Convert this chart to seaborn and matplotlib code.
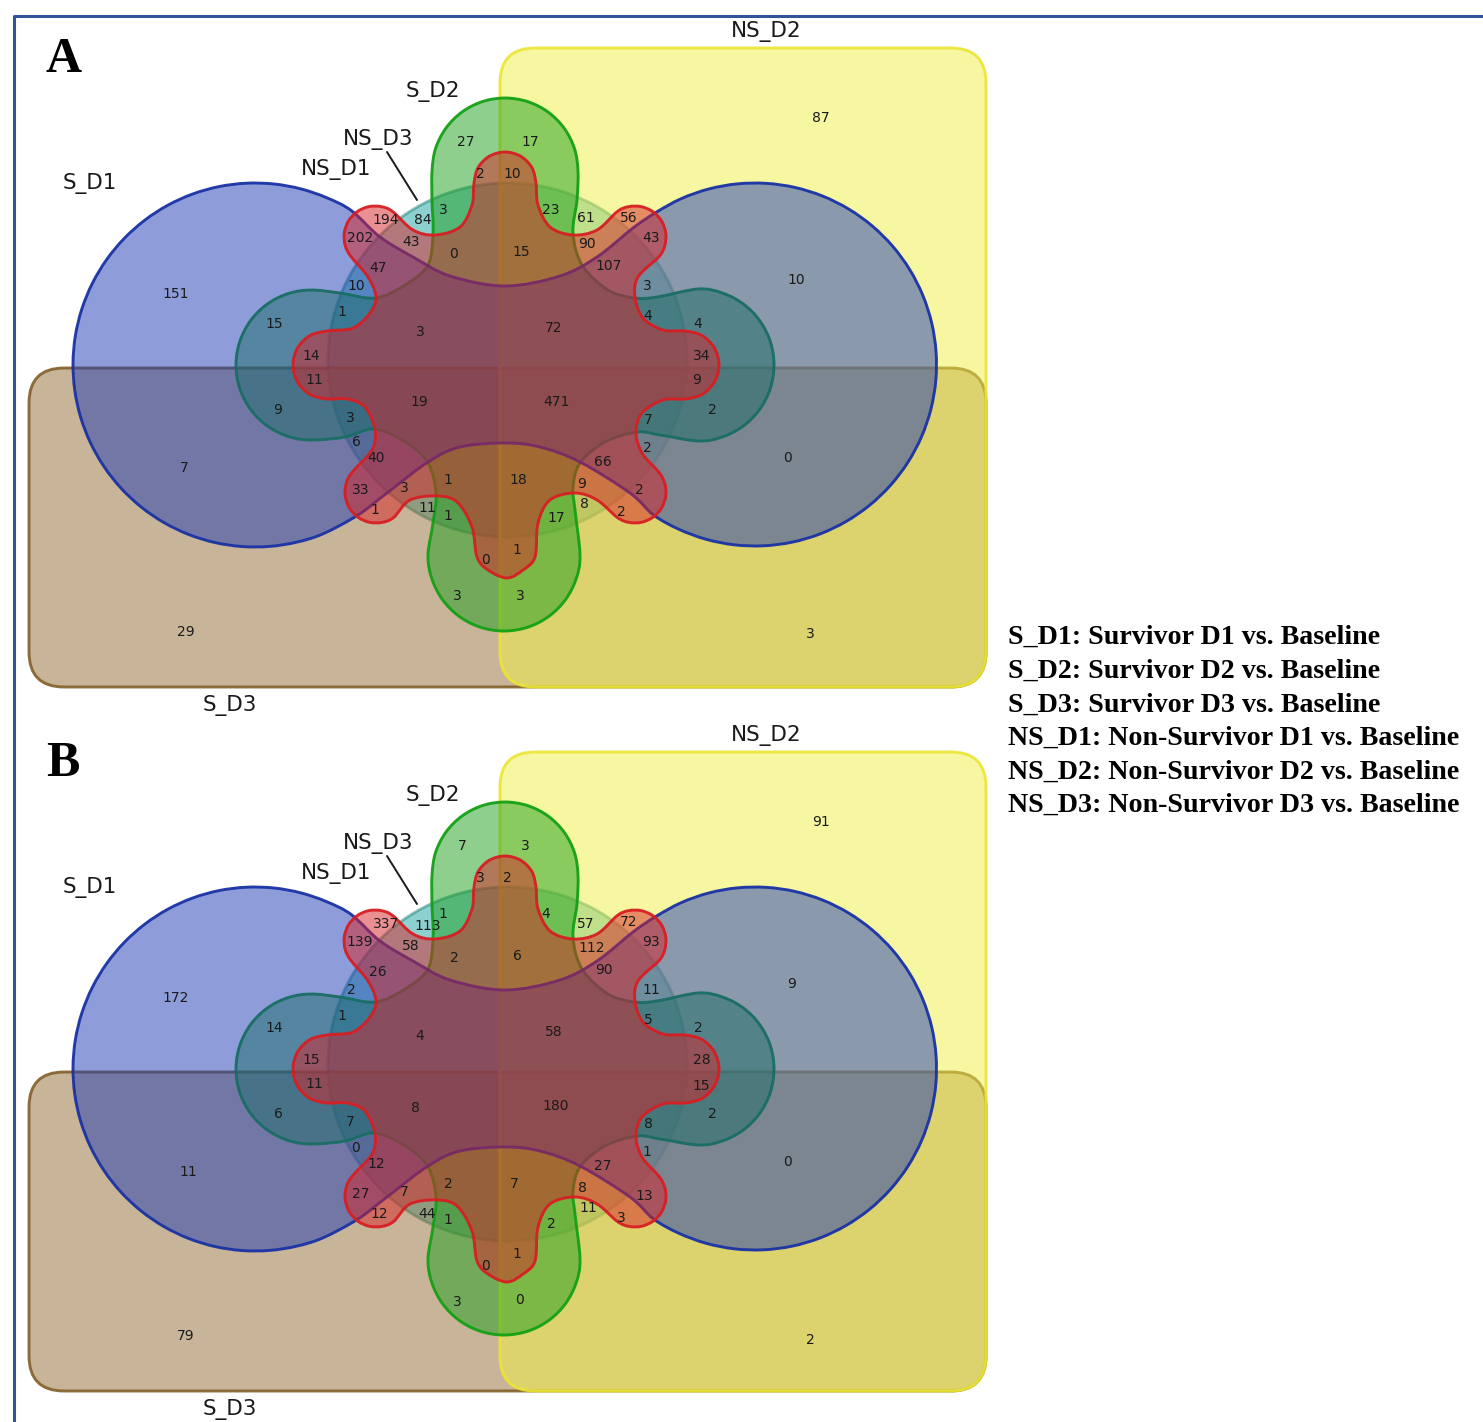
import matplotlib
matplotlib.use("Agg")
import matplotlib.pyplot as plt
import numpy as np
import seaborn as sns
from matplotlib.patches import Ellipse, FancyBboxPatch, PathPatch
from matplotlib.path import Path

sns.set_theme(style="white")

# six-set counts, one per region
counts_a = [87, 10, 151, 27, 17, 2, 10, 194, 84, 3, 23, 61, 56, 202, 43, 0, 15, 90, 43, 107, 47,
            10, 3, 1, 4, 15, 4, 3, 72, 14, 34, 11, 9, 9, 19, 471, 2, 3, 7, 6, 2, 40, 66, 0, 7,
            1, 18, 33, 3, 9, 2, 8, 1, 11, 1, 17, 2, 1, 0, 3, 3, 3, 29]
counts_b = [91, 9, 172, 7, 3, 3, 2, 337, 113, 1, 4, 57, 72, 139, 58, 2, 6, 112, 93, 90, 26,
            2, 11, 1, 5, 14, 2, 4, 58, 15, 28, 11, 15, 6, 8, 180, 2, 7, 8, 0, 1, 12, 27, 0, 11,
            2, 7, 27, 7, 8, 13, 11, 12, 44, 1, 2, 3, 1, 0, 3, 0, 2, 79]

set_names = ["S_D2", "NS_D3", "NS_D1", "S_D1", "NS_D2", "S_D3"]
legend_lines = ["S_D1: Survivor D1 vs. Baseline", "S_D2: Survivor D2 vs. Baseline",
                "S_D3: Survivor D3 vs. Baseline", "NS_D1: Non-Survivor D1 vs. Baseline",
                "NS_D2: Non-Survivor D2 vs. Baseline", "NS_D3: Non-Survivor D3 vs. Baseline"]

# where things sit, in reference pixels
pos_a = [(821, 118), (796, 279), (176, 294), (466, 141), (530, 141), (480, 174), (512, 174),
         (386, 219), (423, 220), (443, 210), (551, 210), (586, 218), (629, 217), (360, 238),
         (411, 241), (454, 253), (521, 252), (587, 244), (651, 237), (609, 266), (378, 267),
         (356, 286), (647, 285), (342, 312), (648, 315), (274, 323), (698, 323), (420, 331),
         (554, 327), (311, 355), (702, 355), (314, 380), (697, 380), (278, 409), (419, 402),
         (556, 401), (712, 409), (350, 418), (648, 419), (356, 442), (647, 447), (376, 458),
         (603, 461), (788, 457), (184, 467), (448, 479), (518, 480), (361, 489), (404, 487),
         (582, 483), (639, 490), (584, 503), (375, 509), (427, 508), (448, 515), (556, 518),
         (621, 512), (517, 549), (486, 560), (457, 596), (520, 595), (810, 634), (186, 631)]
pos_b = [(821, 822), (792, 983), (176, 998), (462, 845), (525, 845), (480, 878), (507, 878),
         (386, 923), (428, 925), (443, 914), (546, 914), (586, 923), (629, 921), (360, 942),
         (411, 945), (454, 957), (517, 956), (592, 948), (651, 941), (604, 970), (378, 971),
         (351, 990), (651, 989), (342, 1016), (648, 1020), (274, 1027), (698, 1027), (420, 1035),
         (554, 1031), (311, 1059), (702, 1059), (314, 1084), (701, 1085), (278, 1113), (415, 1107),
         (556, 1106), (712, 1113), (350, 1122), (648, 1124), (356, 1147), (647, 1151), (376, 1163),
         (603, 1166), (788, 1162), (188, 1172), (448, 1184), (514, 1184), (361, 1194), (404, 1191),
         (582, 1188), (644, 1195), (588, 1207), (379, 1214), (427, 1213), (448, 1220), (551, 1223),
         (621, 1217), (517, 1254), (486, 1265), (457, 1301), (520, 1300), (810, 1339), (186, 1335)]
name_pos = [(433, 90), (378, 139), (336, 169), (90, 183), (766, 31), (230, 705)]
legend_y = [636, 670, 704, 737, 771, 804]


def arc(cx, cy, r, deg0, deg1, n):
    # y runs downward here, so growing angle goes clockwise on screen
    t = np.radians(np.linspace(deg0, deg1, n))
    return list(zip(cx + r * np.cos(t), cy + r * np.sin(t)))


red_outline = (arc(505, 183, 31, 180, 360, 7)
               + [(538, 205), (550, 227), (573, 235), (597, 230)]
               + arc(635, 237, 31, -125, 40, 8)
               + [(638, 277), (635, 297), (643, 318), (663, 330)]
               + arc(685, 365, 34, -90, 90, 7)
               + [(663, 400), (642, 413), (636, 432), (642, 453)]
               + arc(635, 492, 31, -40, 125, 8)
               + [(597, 500), (575, 493), (550, 500), (538, 523), (535, 557), (523, 570), (507, 578),
                  (488, 570), (477, 557), (472, 527), (457, 502), (437, 496), (410, 500)]
               + arc(376, 492, 31, 55, 220, 8)
               + [(372, 450), (375, 430), (365, 407), (347, 399)]
               + arc(327, 365, 34, 90, 270, 7)
               + [(353, 328), (370, 313), (376, 297), (368, 277)]
               + arc(375, 237, 31, 140, 305, 8)
               + [(413, 230), (435, 235), (460, 227), (472, 205)])
green_outline = (arc(505, 171, 73, 180, 360, 11)
                 + [(577, 200), (573, 233), (582, 265), (608, 290), (635, 298), (657, 297)]
                 + arc(698, 365, 76, -90, 90, 11)
                 + [(660, 435), (637, 432), (605, 442), (580, 463), (573, 487), (575, 510)]
                 + arc(504, 555, 76, 0, 180, 11)
                 + [(433, 523), (436, 493), (428, 463), (407, 443), (375, 429), (345, 437)]
                 + arc(311, 365, 75, 90, 270, 11)
                 + [(340, 293), (375, 298), (405, 285), (428, 265), (433, 233), (432, 200)])
blue_outline = (arc(255, 365, 182, 68, 302, 28)
                + [(380, 237), (413, 257), (450, 276), (505, 286), (560, 276), (597, 257), (633, 228)]
                + arc(755, 364.5, 181.5, 237, 484, 28)
                + [(630, 493), (580, 462), (540, 447), (505, 443), (460, 447), (428, 462), (387, 493), (358, 515)])


def closed_spline(points, dy):
    # Catmull-Rom through the outline points, as cubic beziers
    p = np.array(points, dtype=float) + [0, dy]
    verts = [p[0]]
    codes = [Path.MOVETO]
    n = len(p)
    for i in range(n):
        p0, p1, p2, p3 = p[i - 1], p[i], p[(i + 1) % n], p[(i + 2) % n]
        verts += [p1 + (p2 - p0) / 6, p2 - (p3 - p1) / 6, p2]
        codes += [Path.CURVE4] * 3
    return Path(verts, codes)


def rgba(rgb, a):
    return (rgb[0] / 255, rgb[1] / 255, rgb[2] / 255, a)


BROWN = (146, 106, 50)
YELLOW = (240, 240, 70)
TEAL = (30, 160, 160)
GREEN = (30, 160, 30)
BLUE = (30, 60, 180)
RED = (215, 35, 40)
LW = 2.1


def draw_panel(ax, dy, counts, positions, letter, letter_x):
    ax.add_patch(Ellipse((507.5, 360 + dy), 359, 354, fc=rgba(TEAL, .5), ec=rgba((30, 130, 120), .5),
                         lw=LW, zorder=1))
    ax.add_patch(FancyBboxPatch((29, 368 + dy), 957, 319, boxstyle="round,pad=0,rounding_size=35",
                                fc=rgba(BROWN, .5), ec=rgba((130, 95, 40), .9), lw=LW, zorder=2))
    ax.add_patch(FancyBboxPatch((500, 48 + dy), 486, 639, boxstyle="round,pad=0,rounding_size=35",
                                fc=rgba(YELLOW, .5), ec=rgba((235, 230, 50), .9), lw=LW, zorder=3))
    ax.add_patch(PathPatch(closed_spline(green_outline, dy), fc=rgba(GREEN, .5), ec=rgba((20, 160, 20), .95),
                           lw=LW, zorder=4))
    ax.add_patch(PathPatch(closed_spline(blue_outline, dy), fc=rgba(BLUE, .5), ec=rgba((25, 50, 165), .95),
                           lw=LW, zorder=5))
    ax.add_patch(PathPatch(closed_spline(red_outline, dy), fc=rgba(RED, .5), ec=rgba((215, 30, 35), .95),
                           lw=LW, zorder=6))
    for value, (x, y) in zip(counts, positions):
        ax.text(x, y + 0.5, str(value), ha="center", va="center", fontsize=10, color="#1a1a1a",
                family="DejaVu Sans", zorder=10)
    for name, (x, y) in zip(set_names, name_pos):
        ax.text(x, y + dy + 1, name, ha="center", va="center", fontsize=15.5, color="#1a1a1a",
                family="DejaVu Sans", zorder=10)
    ax.plot([387, 417], [152 + dy, 200 + dy], color="#1a1a1a", lw=1.4, zorder=10)
    ax.text(letter_x, 72 + dy, letter, ha="center", va="baseline", fontsize=36, fontweight="bold",
            family="Liberation Serif", color="black", zorder=10)


fig = plt.figure(figsize=(14.83, 14.22), dpi=100)
ax = fig.add_axes([0, 0, 1, 1])
ax.set_xlim(0, 1483)
ax.set_ylim(1422, 0)
ax.axis("off")

# frame, open at the right and bottom
ax.plot([13.5, 13.5, 1483], [1422, 15.5, 15.5], color="#2f5597", lw=2.2)

draw_panel(ax, 0, counts_a, pos_a, "A", 64)
draw_panel(ax, 704, counts_b, pos_b, "B", 63)

for line, y in zip(legend_lines, legend_y):
    ax.text(1008, y + 1, line, ha="left", va="center", fontsize=20.2, fontweight="bold",
            family="Liberation Serif", color="black")

plt.savefig("out.png", dpi=100)
